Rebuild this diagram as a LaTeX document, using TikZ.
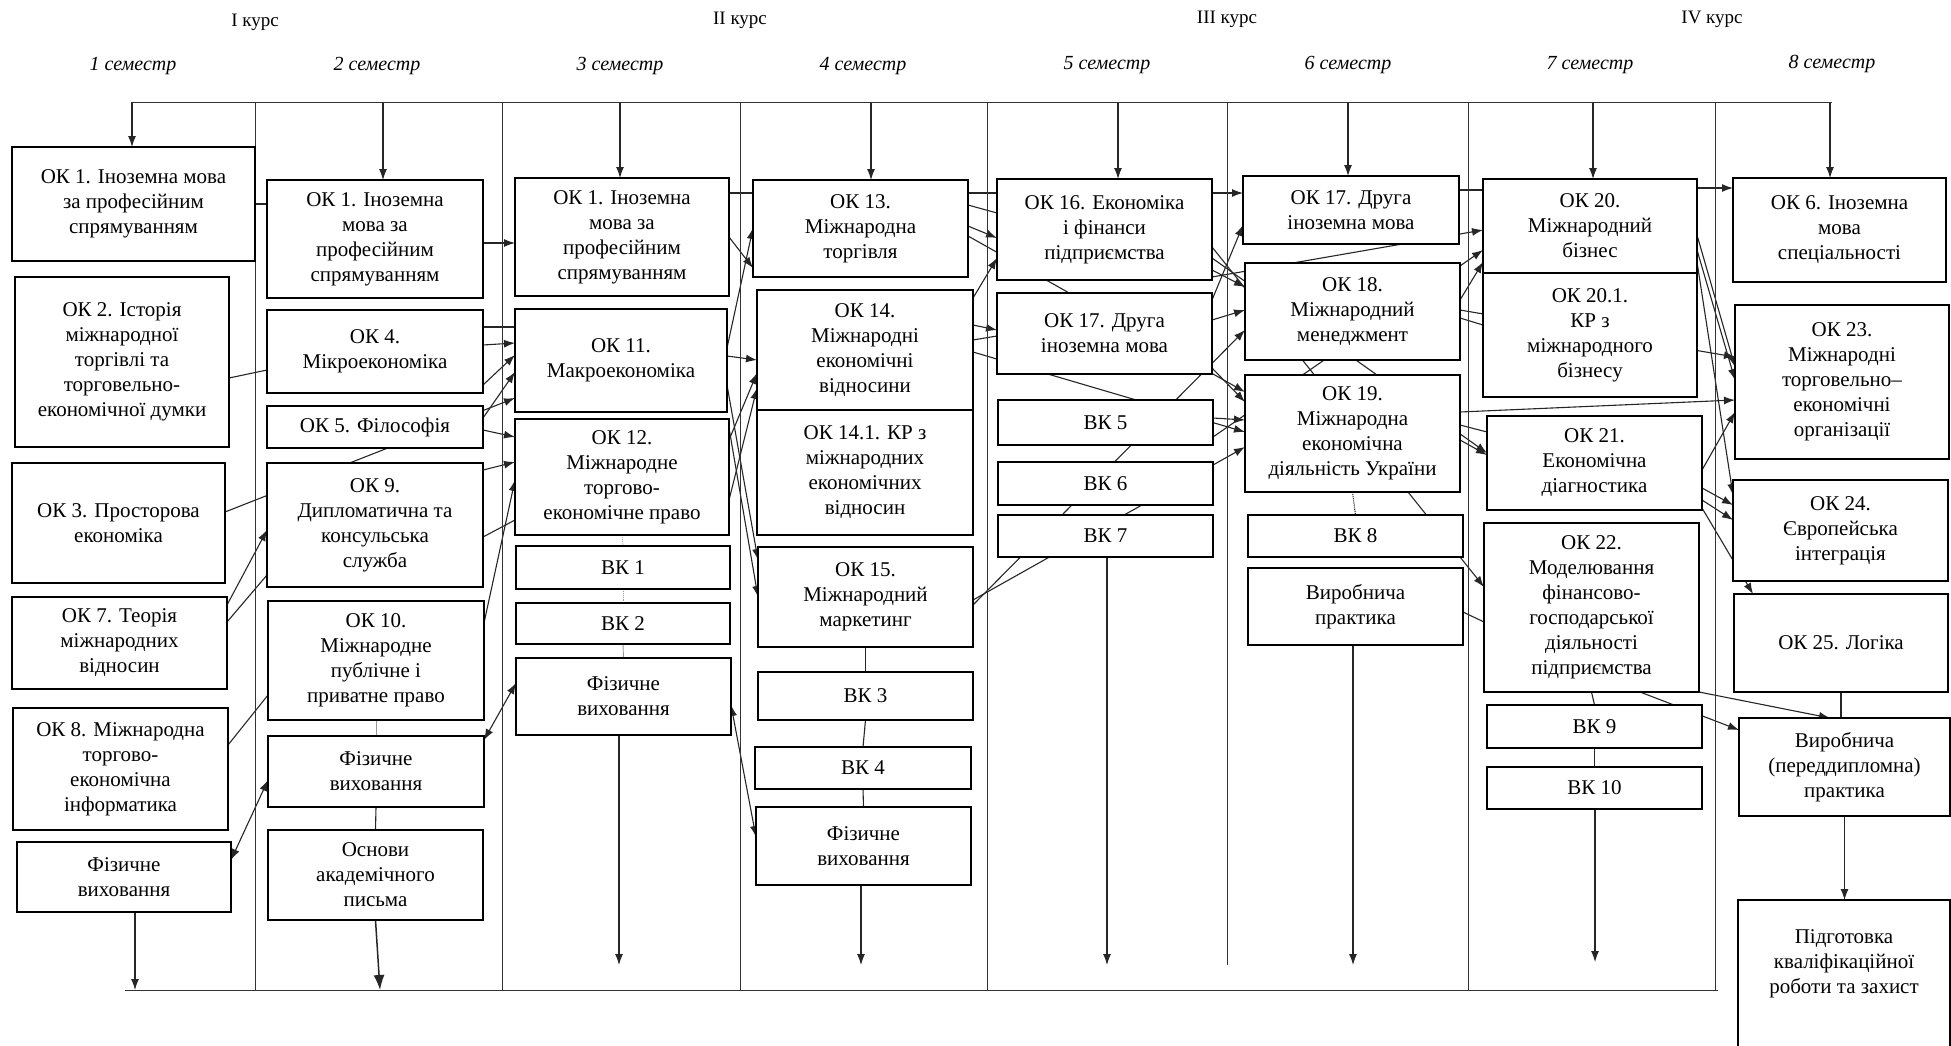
\documentclass[tikz,border=0pt]{standalone}
\usepackage{fontspec}
\setmainfont{Liberation Serif}
\usetikzlibrary{arrows.meta,backgrounds}
\tikzset{
  box/.style={draw, line width=1.6pt, fill=white, inner sep=0pt, outer sep=0pt, align=center, font=\fontsize{21}{25}\selectfont},
  conn/.style={line width=1.1pt, draw=black!85},
  faint/.style={line width=0.9pt, draw=black!40},
  sepline/.style={line width=0.9pt, draw=black!80},
  hdr/.style={font=\fontsize{19}{23}\selectfont},
  sem/.style={font=\fontsize{20}{24}\selectfont\itshape},
  >={Latex[length=11pt,width=8pt]},
}
\newcommand{\bx}[6]{\node[box, minimum width={#4-#2}, minimum height={#5-#3}] (#1) at ({(#2+#4)/2},{(#3+#5)/2}) {#6};}
\newcommand{\lk}[5][]{\draw[conn,#1] (#2.east |- 0,#3) -- (#4.west |- 0,#5);}
\begin{document}
\begin{tikzpicture}[x=1pt,y=-1pt]
\useasboundingbox (0,0) rectangle (1951,1045);
% headers
\node[hdr] (k1) at (255,22) {I курс};
\node[hdr] (k2) at (740,20) {II курс};
\node[hdr] (k3) at (1227,19) {III курс};
\node[hdr] (k4) at (1712,19) {IV курс};
\node[sem] (s1) at (133,66) {1 семестр};
\node[sem] (s2) at (377,66) {2 семестр};
\node[sem] (s3) at (620,66) {3 семестр};
\node[sem] (s4) at (863,66) {4 семестр};
\node[sem] (s5) at (1107,65) {5 семестр};
\node[sem] (s6) at (1348,65) {6 семестр};
\node[sem] (s7) at (1590,65) {7 семестр};
\node[sem] (s8) at (1832,64) {8 семестр};
% frame lines
\draw[sepline] (132,102) -- (1832,102);
\draw[sepline] (125,990) -- (1718,990);
\foreach \x/\b in {255/990,502/990,740/990,987/990,1227/965,1468/990,1715/990}
  \draw[sepline] (\x,102) -- (\x,\b);
% column 1
\bx{c1a}{12}{147}{255}{261}{ОК 1. Іноземна мова\\за професійним\\спрямуванням}
\bx{c1b}{15}{277}{229}{447}{ОК 2. Історія\\міжнародної\\торгівлі та\\торговельно-\\економічної думки}
\bx{c1c}{12}{463}{225}{583}{ОК 3. Просторова\\економіка}
\bx{c1d}{12}{597}{227}{689}{ОК 7. Теорія\\міжнародних\\відносин}
\bx{c1e}{13}{708}{228}{830}{ОК 8. Міжнародна\\торгово-\\економічна\\інформатика}
\bx{c1f}{17}{842}{231}{912}{Фізичне\\виховання}
% column 2
\bx{c2a}{267}{180}{483}{298}{ОК 1. Іноземна\\мова за\\професійним\\спрямуванням}
\bx{c2b}{267}{310}{483}{393}{ОК 4.\\Мікроекономіка}
\bx{c2c}{267}{406}{483}{448}{ОК 5. Філософія}
\bx{c2d}{267}{463}{483}{587}{ОК 9.\\Дипломатична та\\консульська\\служба}
\bx{c2e}{268}{601}{484}{720}{ОК 10.\\Міжнародне\\публічне і\\приватне право}
\bx{c2f}{268}{736}{484}{807}{Фізичне\\виховання}
\bx{c2g}{268}{830}{483}{920}{Основи\\академічного\\письма}
% column 3
\bx{c3a}{515}{178}{729}{296}{ОК 1. Іноземна\\мова за\\професійним\\спрямуванням}
\bx{c3b}{515}{309}{727}{412}{ОК 11.\\Макроекономіка}
\bx{c3c}{515}{419}{729}{535}{ОК 12.\\Міжнародне\\торгово-\\економічне право}
\bx{c3d}{516}{546}{730}{589}{ВК 1}
\bx{c3e}{516}{603}{730}{644}{ВК 2}
\bx{c3f}{516}{658}{731}{735}{Фізичне\\виховання}
% column 4
\bx{c4a}{753}{180}{968}{277}{ОК 13.\\Міжнародна\\торгівля}
\bx{c4b}{757}{290}{973}{410}{ОК 14.\\Міжнародні\\економічні\\відносини}
\bx{c4c}{757}{410}{973}{535}{ОК 14.1. КР з\\міжнародних\\економічних\\відносин}
\bx{c4d}{758}{547}{973}{647}{ОК 15.\\Міжнародний\\маркетинг}
\bx{c4e}{758}{672}{973}{720}{ВК 3}
\bx{c4f}{755}{747}{971}{789}{ВК 4}
\bx{c4g}{756}{807}{971}{885}{Фізичне\\виховання}
% column 5
\bx{c5a}{997}{179}{1212}{280}{ОК 16. Економіка\\і фінанси\\підприємства}
\bx{c5b}{997}{293}{1212}{374}{ОК 17. Друга\\іноземна мова}
\bx{c5c}{998}{400}{1213}{445}{ВК 5}
\bx{c5d}{998}{462}{1213}{505}{ВК 6}
\bx{c5e}{998}{515}{1213}{557}{ВК 7}
% column 6
\bx{c6a}{1243}{176}{1459}{244}{ОК 17. Друга\\іноземна мова}
\bx{c6b}{1245}{263}{1460}{360}{ОК 18.\\Міжнародний\\менеджмент}
\bx{c6c}{1245}{375}{1460}{492}{ОК 19.\\Міжнародна\\економічна\\діяльність України}
\bx{c6d}{1248}{515}{1463}{557}{ВК 8}
\bx{c6e}{1248}{568}{1463}{645}{Виробнича\\практика}
% column 7
\bx{c7a}{1483}{179}{1697}{273}{ОК 20.\\Міжнародний\\бізнес}
\bx{c7b}{1483}{273}{1697}{397}{ОК 20.1.\\КР з\\міжнародного\\бізнесу}
\bx{c7c}{1487}{416}{1702}{510}{ОК 21.\\Економічна\\діагностика}
\bx{c7d}{1484}{523}{1699}{692}{ОК 22.\\Моделювання\\фінансово-\\господарської\\діяльності\\підприємства}
\bx{c7e}{1487}{705}{1702}{748}{ВК 9}
\bx{c7f}{1487}{767}{1702}{809}{ВК 10}
% column 8
\bx{c8a}{1733}{178}{1946}{282}{ОК 6. Іноземна\\мова\\спеціальності}
\bx{c8b}{1735}{305}{1949}{459}{ОК 23.\\Міжнародні\\торговельно–\\економічні\\організації}
\bx{c8c}{1733}{480}{1948}{581}{ОК 24.\\Європейська\\інтеграція}
\bx{c8d}{1734}{594}{1948}{692}{ОК 25. Логіка}
\bx{c8e}{1739}{718}{1950}{816}{Виробнича\\(переддипломна)\\практика}
\bx{c8f}{1738}{900}{1950}{1070}{Підготовка\\кваліфікаційної\\роботи та захист\\[22pt]}
% top and bottom points
\coordinate (t1) at (132,102); \coordinate (t2) at (383,102);
\coordinate (t3) at (620,102); \coordinate (t4) at (871,102);
\coordinate (t5) at (1118,102); \coordinate (t6) at (1348,102);
\coordinate (t7) at (1593,102); \coordinate (t8) at (1830,102);
\coordinate (e1) at (135,990); \coordinate (e2) at (380,990);
\coordinate (e3) at (619,965); \coordinate (e4) at (861,965);
\coordinate (e5) at (1107,965); \coordinate (e6) at (1353,965);
\coordinate (e7) at (1595,962);
\begin{pgfonlayer}{background}
% down arrows from top line
\foreach \t/\n in {t1/c1a,t2/c2a,t3/c3a,t4/c4a,t5/c5a,t6/c6a,t7/c7a,t8/c8a}
  \draw[conn,->] (\t) -- (\t |- \n.north);
% down arrows to bottom
\draw[conn,->] (c1f.south -| e1) -- (e1);
\draw[conn,->,line width=1.5pt,>={Latex[length=15pt,width=11pt]}] (c2g.south) -- (e2);
\draw[conn,->] (c3f.south -| e3) -- (e3);
\draw[conn,->] (c4g.south -| e4) -- (e4);
\draw[conn,->] (c5e.south -| e5) -- (e5);
\draw[conn,->] (c6e.south -| e6) -- (e6);
\draw[conn,->] (c7f.south -| e7) -- (e7);
% vertical links inside columns
\draw[faint] (c2e.south) -- (c2f.north);
\draw[conn] (c2f.south) -- (c2g.north);
\draw[faint,densely dotted] (c3c.south) -- (c3d.north);
\draw[faint,densely dotted] (c3d.south) -- (c3e.north);
\draw[faint] (c3e.south) -- (c3f.north);
\draw[conn] (c4d.south) -- (c4e.north);
\draw[conn] (c4e.south) -- (c4f.north);
\draw[conn] (c4f.south) -- (c4g.north);
\draw[conn,densely dotted] (c6c.south) -- (c6d.north);
\draw[conn] (c7d.south) -- (c7e.north);
\draw[conn] (c7e.south) -- (c7f.north);
\draw[conn] (c8d.south) -- (c8d.south |- c8e.north);
\draw[conn,->] (c8e.south) -- (c8e.south |- c8f.north);
% gap 1
\lk{c1a}{204}{c2a}{204}
\lk{c1b}{378}{c2b}{370}
\lk[->]{c1c}{512}{c3b}{398}
\lk[->]{c1d}{605}{c2d}{530}
\lk{c1d}{622}{c2d}{575}
\lk{c1e}{745}{c2e}{695}
\lk[<->]{c1f}{860}{c2f}{780}
% gap 2
\lk[->]{c2a}{243}{c3a}{243}
\lk{c2b}{327}{c3b}{327}
\lk[->]{c2b}{345}{c3b}{343}
\lk[->]{c2b}{385}{c3b}{355}
\lk[->]{c2c}{418}{c3b}{372}
\lk[->]{c2c}{430}{c3c}{437}
\lk[->]{c2d}{470}{c3c}{462}
\lk{c2d}{537}{c3c}{520}
\lk[->]{c2e}{623}{c3c}{480}
\lk[<->]{c2f}{740}{c3f}{683}
% gap 3
\lk{c3a}{193}{c4a}{193}
\lk[->]{c3a}{237}{c4a}{268}
\lk[->]{c3b}{348}{c4a}{228}
\lk[->]{c3b}{356}{c4b}{360}
\lk[->]{c3c}{440}{c4b}{373}
\lk[->]{c3c}{500}{c4b}{388}
\lk[->]{c3b}{385}{c4d}{560}
\lk[->]{c3c}{428}{c4d}{597}
\lk[<->]{c3f}{705}{c4g}{837}
% gap 4
\lk{c4a}{193}{c5a}{193}
\lk{c4a}{205}{c5a}{213}
\lk[->]{c4a}{226}{c5a}{238}
\lk[->]{c4a}{236}{c6c}{392}
\lk[->]{c4b}{298}{c5a}{258}
\lk[->]{c4b}{325}{c5b}{330}
\lk{c4b}{340}{c5b}{336}
\lk[->]{c4b}{352}{c6c}{432}
\lk[->]{c4d}{600}{c6c}{447}
\lk[->]{c4d}{605}{c6b}{330}
% gap 5
\lk[->]{c5a}{193}{c6a}{193}
\lk[->]{c5a}{277}{c7a}{230}
\lk[->]{c5a}{258}{c7c}{453}
\lk[->]{c5a}{247}{c7d}{587}
\lk[->]{c5a}{270}{c6b}{287}
\lk[->]{c5b}{300}{c6a}{225}
\lk[->]{c5b}{320}{c6b}{310}
\lk[->]{c5b}{368}{c6c}{402}
\lk[->]{c5c}{418}{c6c}{420}
\lk[->]{c5c}{437}{c7a}{250}
% gap 6
\lk{c6a}{190}{c7a}{190}
\lk[->]{c6b}{300}{c7a}{262}
\lk[->]{c6b}{310}{c8b}{357}
\lk{c6b}{318}{c7b}{325}
\lk[->]{c6c}{412}{c8b}{400}
\lk{c6c}{425}{c7c}{432}
\lk[->]{c6c}{440}{c7c}{455}
\lk{c6e}{612}{c7d}{622}
% gap 7
\lk[->]{c7a}{188}{c8a}{188}
\lk[->]{c7a}{235}{c8b}{367}
\lk[->]{c7a}{250}{c8b}{380}
\lk[->]{c7a}{262}{c8c}{495}
\lk[->]{c7c}{470}{c8b}{412}
\lk[->]{c7c}{488}{c8c}{505}
\lk[->]{c7c}{500}{c8c}{520}
\draw[conn,->] (c7c.east |- 0,508) -- (c8d.north -| 1753,0);
\draw[conn,->] (c7d.south -| 1640,0) -- (c8e.west |- 0,730);
\draw[conn,->] (c7d.south east) -- (c8e.north -| 1830,0);
\end{pgfonlayer}
\end{tikzpicture}
\end{document}
